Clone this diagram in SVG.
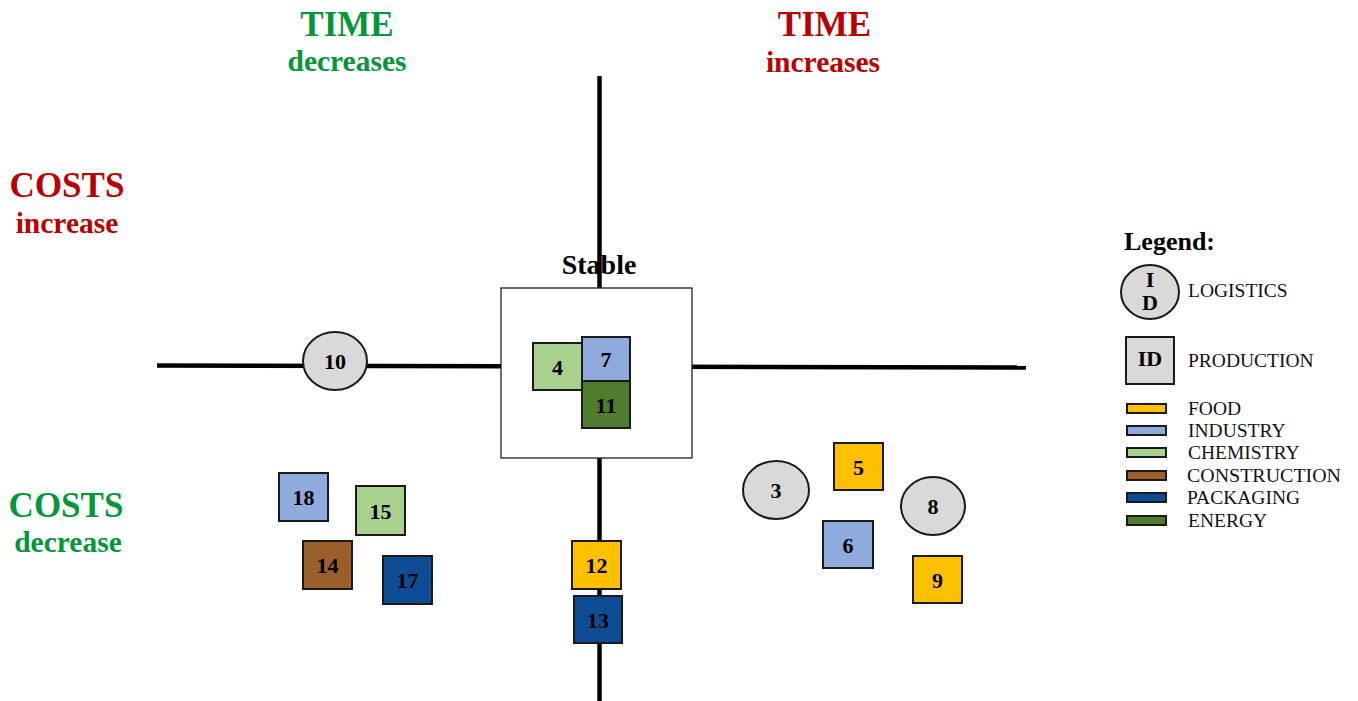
<svg xmlns="http://www.w3.org/2000/svg" width="1358" height="701" viewBox="0 0 1358 701">
<style>
text{font-family:"Liberation Serif","Times New Roman",serif}
.h{font-weight:bold;text-anchor:middle}
.big{font-size:35px}
.sub{font-size:29.5px}
.red{fill:#b80000}
.grn{fill:#05963a}
.axis{stroke:#000;stroke-width:4.5;fill:none}
.n{stroke:#1a1a1a;stroke-width:2}
.lbl{font-size:22px;font-weight:bold;text-anchor:middle;fill:#000}
.leg{font-size:19.5px;fill:#111}
.food{fill:#ffc000}.ind{fill:#8faadc}.chem{fill:#a9d18e}.cons{fill:#9c5f2c}.pack{fill:#0e4c96}.ener{fill:#4e7d2e}.log{fill:#d9d9d9}
</style>
<rect width="1358" height="701" fill="#fff"/>
<g id="connectors">
<line class="axis" x1="599.5" y1="76" x2="599.5" y2="701"/>
<line class="axis" x1="157" y1="365.5" x2="1026" y2="367.5"/>
</g>
<g id="headings">
<text class="h big grn" x="347" y="36">TIME</text>
<text class="h sub grn" x="347" y="71">decreases</text>
<text class="h big red" x="824.5" y="36">TIME</text>
<text class="h sub red" x="823" y="72">increases</text>
<text class="h big red" x="67" y="197">COSTS</text>
<text class="h sub red" x="67" y="233">increase</text>
<text class="h big grn" x="66" y="517">COSTS</text>
<text class="h sub grn" x="68" y="552">decrease</text>
</g>
<g id="stable">
<rect x="501" y="288" width="191" height="170" fill="#fff" stroke="#222" stroke-width="1.3"/>
<text class="h" x="599" y="274" font-size="28px" fill="#000">Stable</text>
</g>
<g id="n4"><rect class="n chem" x="533" y="343" width="49" height="47"/><text class="lbl" x="557.5" y="374.5">4</text></g>
<g id="n7"><rect class="n ind" x="582" y="337" width="48" height="44"/><text class="lbl" x="606" y="366.5">7</text></g>
<g id="n11"><rect class="n ener" x="582" y="381" width="48" height="47"/><text class="lbl" x="606" y="412.5">11</text></g>
<g id="n10"><ellipse class="n log" cx="335" cy="361" rx="32" ry="29"/><text class="lbl" x="335" y="368.5">10</text></g>
<g id="n18"><rect class="n ind" x="279" y="473" width="49" height="48"/><text class="lbl" x="303.5" y="505">18</text></g>
<g id="n15"><rect class="n chem" x="356" y="486" width="49" height="49"/><text class="lbl" x="380.5" y="518.5">15</text></g>
<g id="n14"><rect class="n cons" x="303" y="541" width="49" height="48"/><text class="lbl" x="327.5" y="573">14</text></g>
<g id="n17"><rect class="n pack" x="383" y="556" width="49" height="48"/><text class="lbl" x="407.5" y="588">17</text></g>
<g id="n12"><rect class="n food" x="572" y="541" width="49" height="48"/><text class="lbl" x="596.5" y="573">12</text></g>
<g id="n13"><rect class="n pack" x="574" y="596" width="48" height="47"/><text class="lbl" x="598" y="627.5">13</text></g>
<g id="n5"><rect class="n food" x="834" y="443" width="49" height="47"/><text class="lbl" x="858.5" y="474.5">5</text></g>
<g id="n3"><ellipse class="n log" cx="776" cy="490" rx="33" ry="29"/><text class="lbl" x="776" y="497.5">3</text></g>
<g id="n8"><ellipse class="n log" cx="933" cy="506" rx="32" ry="29"/><text class="lbl" x="933" y="513.5">8</text></g>
<g id="n6"><rect class="n ind" x="823" y="521" width="50" height="47"/><text class="lbl" x="848" y="552.5">6</text></g>
<g id="n9"><rect class="n food" x="913" y="556" width="49" height="47"/><text class="lbl" x="937.5" y="587.5">9</text></g>
<g id="legend">
<text x="1124" y="250" font-size="26px" font-weight="bold" fill="#000">Legend:</text>
<ellipse class="n log" cx="1150" cy="292" rx="29" ry="27"/>
<text class="lbl" x="1150" y="287" font-size="13px">I</text>
<text class="lbl" x="1150" y="310" font-size="13px">D</text>
<text class="leg" x="1188" y="297">LOGISTICS</text>
<rect class="n log" x="1126" y="337" width="48" height="47"/>
<text class="lbl" x="1150" y="366" font-size="16px">ID</text>
<text class="leg" x="1188" y="367">PRODUCTION</text>
<rect class="n food" x="1127" y="404" width="39" height="9" stroke-width="1.5"/>
<text class="leg" x="1188" y="415">FOOD</text>
<rect class="n ind" x="1127" y="426" width="39" height="9" stroke-width="1.5"/>
<text class="leg" x="1188" y="437">INDUSTRY</text>
<rect class="n chem" x="1127" y="448" width="39" height="9" stroke-width="1.5"/>
<text class="leg" x="1188" y="459">CHEMISTRY</text>
<rect class="n cons" x="1127" y="471" width="39" height="9" stroke-width="1.5"/>
<text class="leg" x="1187" y="482" textLength="154" lengthAdjust="spacingAndGlyphs">CONSTRUCTION</text>
<rect class="n pack" x="1127" y="493" width="39" height="9" stroke-width="1.5"/>
<text class="leg" x="1187" y="504">PACKAGING</text>
<rect class="n ener" x="1127" y="516" width="39" height="9" stroke-width="1.5"/>
<text class="leg" x="1188" y="527">ENERGY</text>
</g>
</svg>
